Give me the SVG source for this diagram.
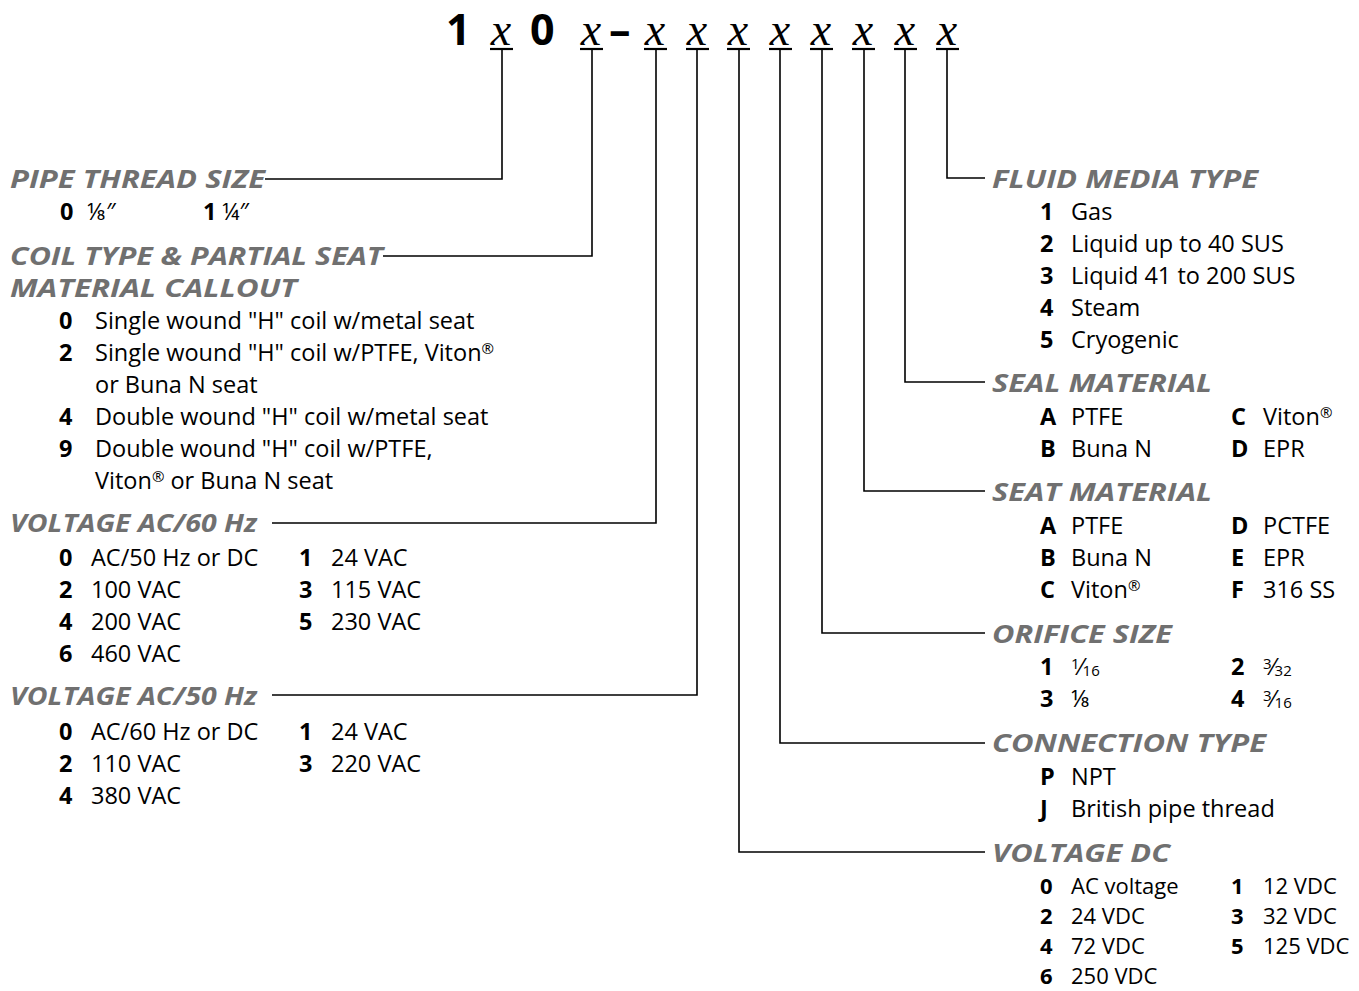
<svg xmlns="http://www.w3.org/2000/svg" width="1359" height="991" viewBox="0 0 1359 991">
<style>
.h{font-family:"Open Sans","Liberation Sans",sans-serif;font-weight:700;font-style:italic;font-size:25.5px;fill:#707070}
.t{font-family:"Open Sans","Liberation Sans",sans-serif;font-size:23.5px;fill:#000}
.d{font-size:22px}
.k{font-weight:700}
.big{font-family:"Open Sans","Liberation Sans",sans-serif;font-weight:700;font-size:43px;fill:#000}
.x{font-family:"Liberation Serif","Times New Roman",serif;font-style:italic;font-size:46px;fill:#000}
.c{fill:none;stroke:#000;stroke-width:1.6}
.u{stroke:#000;stroke-width:2.2}
.fs{font-size:15px}
</style>
<rect width="1359" height="991" fill="#fff"/>
<g id="header">
<text class="big" x="446" y="45">1</text>
<text class="big" x="530" y="45">0</text>
<text class="big" x="609" y="45">–</text>
<text class="x" x="501" y="45" text-anchor="middle">x</text>
<text class="x" x="591" y="45" text-anchor="middle">x</text>
<text class="x" x="655" y="45" text-anchor="middle">x</text>
<text class="x" x="697" y="45" text-anchor="middle">x</text>
<text class="x" x="738" y="45" text-anchor="middle">x</text>
<text class="x" x="780" y="45" text-anchor="middle">x</text>
<text class="x" x="821" y="45" text-anchor="middle">x</text>
<text class="x" x="863" y="45" text-anchor="middle">x</text>
<text class="x" x="905" y="45" text-anchor="middle">x</text>
<text class="x" x="947" y="45" text-anchor="middle">x</text>
<line class="u" x1="490" y1="49" x2="513" y2="49"/>
<line class="u" x1="580" y1="49" x2="603" y2="49"/>
<line class="u" x1="644" y1="49" x2="667" y2="49"/>
<line class="u" x1="686" y1="49" x2="709" y2="49"/>
<line class="u" x1="727" y1="49" x2="750" y2="49"/>
<line class="u" x1="769" y1="49" x2="792" y2="49"/>
<line class="u" x1="810" y1="49" x2="833" y2="49"/>
<line class="u" x1="852" y1="49" x2="875" y2="49"/>
<line class="u" x1="894" y1="49" x2="917" y2="49"/>
<line class="u" x1="936" y1="49" x2="959" y2="49"/>
</g>
<g id="connectors">
<polyline class="c" points="502,49 502,179 265,179"/>
<polyline class="c" points="592,49 592,256 383,256"/>
<polyline class="c" points="656,49 656,523 272,523"/>
<polyline class="c" points="697,49 697,695 272,695"/>
<polyline class="c" points="739,49 739,852 985,852"/>
<polyline class="c" points="780,49 780,743 985,743"/>
<polyline class="c" points="822,49 822,633 985,633"/>
<polyline class="c" points="864,49 864,491 985,491"/>
<polyline class="c" points="905,49 905,382 985,382"/>
<polyline class="c" points="947,49 947,178 985,178"/>
</g>
<g id="pipe-thread-size">
<text class="h" x="10" y="188" textLength="255" lengthAdjust="spacingAndGlyphs">PIPE THREAD SIZE</text>
<text class="t k" x="60" y="220">0</text>
<text class="t" x="87" y="220">⅛″</text>
<text class="t k" x="203" y="220">1</text>
<text class="t" x="222" y="220">¼″</text>
</g>
<g id="coil-type">
<text class="h" x="10" y="265" textLength="373" lengthAdjust="spacingAndGlyphs">COIL TYPE &amp; PARTIAL SEAT</text>
<text class="h" x="10" y="297" textLength="287" lengthAdjust="spacingAndGlyphs">MATERIAL CALLOUT</text>
<text class="t k" x="59" y="329">0</text><text class="t" x="95" y="329">Single wound "H" coil w/metal seat</text>
<text class="t k" x="59" y="361">2</text><text class="t" x="95" y="361">Single wound "H" coil w/PTFE, Viton<tspan class="fs" dy="-7">®</tspan></text>
<text class="t" x="95" y="393">or Buna N seat</text>
<text class="t k" x="59" y="425">4</text><text class="t" x="95" y="425">Double wound "H" coil w/metal seat</text>
<text class="t k" x="59" y="457">9</text><text class="t" x="95" y="457">Double wound "H" coil w/PTFE,</text>
<text class="t" x="95" y="489">Viton<tspan class="fs" dy="-7">®</tspan><tspan dy="7"> or Buna N seat</tspan></text>
</g>
<g id="voltage-ac60">
<text class="h" x="10" y="532" textLength="247" lengthAdjust="spacingAndGlyphs">VOLTAGE AC/60 Hz</text>
<text class="t k" x="59" y="566">0</text><text class="t" x="91" y="566">AC/50 Hz or DC</text>
<text class="t k" x="299" y="566">1</text><text class="t" x="331" y="566">24 VAC</text>
<text class="t k" x="59" y="598">2</text><text class="t" x="91" y="598">100 VAC</text>
<text class="t k" x="299" y="598">3</text><text class="t" x="331" y="598">115 VAC</text>
<text class="t k" x="59" y="630">4</text><text class="t" x="91" y="630">200 VAC</text>
<text class="t k" x="299" y="630">5</text><text class="t" x="331" y="630">230 VAC</text>
<text class="t k" x="59" y="662">6</text><text class="t" x="91" y="662">460 VAC</text>
</g>
<g id="voltage-ac50">
<text class="h" x="10" y="705" textLength="247" lengthAdjust="spacingAndGlyphs">VOLTAGE AC/50 Hz</text>
<text class="t k" x="59" y="740">0</text><text class="t" x="91" y="740">AC/60 Hz or DC</text>
<text class="t k" x="299" y="740">1</text><text class="t" x="331" y="740">24 VAC</text>
<text class="t k" x="59" y="772">2</text><text class="t" x="91" y="772">110 VAC</text>
<text class="t k" x="299" y="772">3</text><text class="t" x="331" y="772">220 VAC</text>
<text class="t k" x="59" y="804">4</text><text class="t" x="91" y="804">380 VAC</text>
</g>
<g id="fluid-media-type">
<text class="h" x="992" y="188" textLength="266" lengthAdjust="spacingAndGlyphs">FLUID MEDIA TYPE</text>
<text class="t k" x="1040" y="220">1</text><text class="t" x="1071" y="220">Gas</text>
<text class="t k" x="1040" y="252">2</text><text class="t" x="1071" y="252">Liquid up to 40 SUS</text>
<text class="t k" x="1040" y="284">3</text><text class="t" x="1071" y="284">Liquid 41 to 200 SUS</text>
<text class="t k" x="1040" y="316">4</text><text class="t" x="1071" y="316">Steam</text>
<text class="t k" x="1040" y="348">5</text><text class="t" x="1071" y="348">Cryogenic</text>
</g>
<g id="seal-material">
<text class="h" x="992" y="392" textLength="220" lengthAdjust="spacingAndGlyphs">SEAL MATERIAL</text>
<text class="t k" x="1040" y="425">A</text><text class="t" x="1071" y="425">PTFE</text>
<text class="t k" x="1231" y="425">C</text><text class="t" x="1263" y="425">Viton<tspan class="fs" dy="-7">®</tspan></text>
<text class="t k" x="1040" y="457">B</text><text class="t" x="1071" y="457">Buna N</text>
<text class="t k" x="1231" y="457">D</text><text class="t" x="1263" y="457">EPR</text>
</g>
<g id="seat-material">
<text class="h" x="992" y="501" textLength="220" lengthAdjust="spacingAndGlyphs">SEAT MATERIAL</text>
<text class="t k" x="1040" y="534">A</text><text class="t" x="1071" y="534">PTFE</text>
<text class="t k" x="1231" y="534">D</text><text class="t" x="1263" y="534">PCTFE</text>
<text class="t k" x="1040" y="566">B</text><text class="t" x="1071" y="566">Buna N</text>
<text class="t k" x="1231" y="566">E</text><text class="t" x="1263" y="566">EPR</text>
<text class="t k" x="1040" y="598">C</text><text class="t" x="1071" y="598">Viton<tspan class="fs" dy="-7">®</tspan></text>
<text class="t k" x="1231" y="598">F</text><text class="t" x="1263" y="598">316 SS</text>
</g>
<g id="orifice-size">
<text class="h" x="992" y="643" textLength="180" lengthAdjust="spacingAndGlyphs">ORIFICE SIZE</text>
<text class="t k" x="1040" y="675">1</text><text class="t" x="1071" y="675"><tspan class="fs" dy="-6">1</tspan><tspan dy="6">⁄</tspan><tspan class="fs" dy="1">16</tspan></text>
<text class="t k" x="1231" y="675">2</text><text class="t" x="1263" y="675"><tspan class="fs" dy="-6">3</tspan><tspan dy="6">⁄</tspan><tspan class="fs" dy="1">32</tspan></text>
<text class="t k" x="1040" y="707">3</text><text class="t" x="1071" y="707">⅛</text>
<text class="t k" x="1231" y="707">4</text><text class="t" x="1263" y="707"><tspan class="fs" dy="-6">3</tspan><tspan dy="6">⁄</tspan><tspan class="fs" dy="1">16</tspan></text>
</g>
<g id="connection-type">
<text class="h" x="992" y="752" textLength="274" lengthAdjust="spacingAndGlyphs">CONNECTION TYPE</text>
<text class="t k" x="1040" y="785">P</text><text class="t" x="1071" y="785">NPT</text>
<text class="t k" x="1040" y="817">J</text><text class="t" x="1071" y="817">British pipe thread</text>
</g>
<g id="voltage-dc">
<text class="h" x="992" y="862" textLength="178" lengthAdjust="spacingAndGlyphs">VOLTAGE DC</text>
<text class="t d k" x="1040" y="894">0</text><text class="t d" x="1071" y="894">AC voltage</text>
<text class="t d k" x="1231" y="894">1</text><text class="t d" x="1263" y="894">12 VDC</text>
<text class="t d k" x="1040" y="924">2</text><text class="t d" x="1071" y="924">24 VDC</text>
<text class="t d k" x="1231" y="924">3</text><text class="t d" x="1263" y="924">32 VDC</text>
<text class="t d k" x="1040" y="954">4</text><text class="t d" x="1071" y="954">72 VDC</text>
<text class="t d k" x="1231" y="954">5</text><text class="t d" x="1263" y="954">125 VDC</text>
<text class="t d k" x="1040" y="984">6</text><text class="t d" x="1071" y="984">250 VDC</text>
</g>
</svg>
